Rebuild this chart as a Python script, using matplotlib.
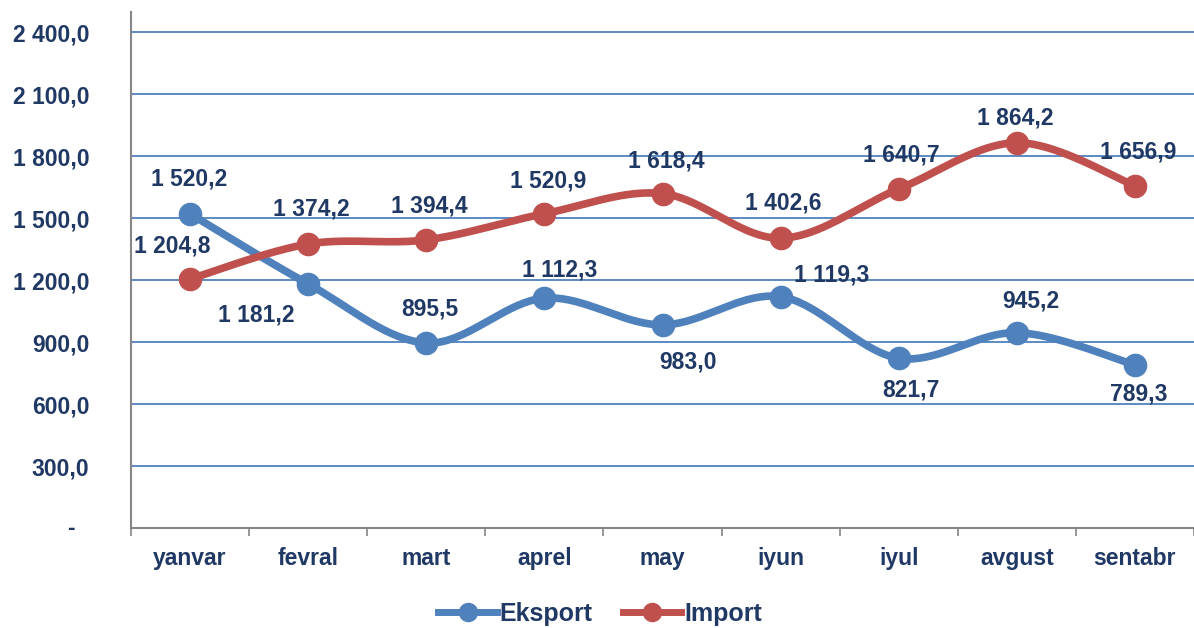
import numpy as np
import matplotlib
matplotlib.use("Agg")
import matplotlib.pyplot as plt
from matplotlib.lines import Line2D

# ---- data ----
months = ["yanvar", "fevral", "mart", "aprel", "may", "iyun", "iyul", "avgust", "sentabr"]
eksport = [1520.2, 1181.2, 895.5, 1112.3, 983.0, 1119.3, 821.7, 945.2, 789.3]
import_ = [1204.8, 1374.2, 1394.4, 1520.9, 1618.4, 1402.6, 1640.7, 1864.2, 1656.9]
ytick_values = [0, 300, 600, 900, 1200, 1500, 1800, 2100, 2400]
ytick_labels = ["-", "300,0", "600,0", "900,0", "1 200,0", "1 500,0", "1 800,0", "2 100,0", "2 400,0"]
series_names = ["Eksport", "Import"]

# ---- style ----
BLUE = "#4F81BD"
RED = "#C0504D"
TXT = "#1F3864"
GRAY = "#868686"
FS = 16.5

# label offsets in pixels (dx, dy up)
eks_off = [(-1, 35), (-52, -31), (4, 34), (15, 28), (25, -37), (51, 22), (12, -32), (14, 32), (4, -29)]
imp_off = [(-18, 33), (3, 35), (3, 34), (4, 33), (4, 33), (3, 35), (3, 34), (-2, 25), (3, 34)]

plt.rcParams['font.family'] = ['Liberation Sans', 'DejaVu Sans']

fig = plt.figure(figsize=(11.94, 6.28), dpi=100)
ax = fig.add_axes([131/1194, 100/628, 1 - 131/1194, 516/628])


def fmt(v):
    s = f"{v:,.1f}".replace(",", " ").replace(".", ",")
    return s


def smooth(xs, ys, n=40):
    P = np.column_stack([xs, ys]).astype(float)
    m = len(P)
    out = []
    for i in range(m - 1):
        p0 = P[i - 1] if i > 0 else P[i]
        p1 = P[i]
        p2 = P[i + 1]
        p3 = P[i + 2] if i + 2 < m else P[i + 1]
        c1 = p1 + (p2 - p0) / 6.0
        c2 = p2 - (p3 - p1) / 6.0
        t = np.linspace(0, 1, n)[:, None]
        seg = ((1 - t) ** 3) * p1 + 3 * ((1 - t) ** 2) * t * c1 + 3 * (1 - t) * t ** 2 * c2 + t ** 3 * p2
        if i > 0:
            seg = seg[1:]
        out.append(seg)
    out = np.vstack(out)
    return out[:, 0], out[:, 1]


x = np.arange(len(months))

# gridlines
ax.set_ylim(0, 2497)
ax.set_xlim(-0.5, len(months) - 0.5)
ax.set_yticks(ytick_values)
ax.yaxis.grid(True, color=BLUE, linewidth=1.3, zorder=0)
ax.set_axisbelow(True)

for vals, color, offs in [(eksport, BLUE, eks_off), (import_, RED, imp_off)]:
    sx, sy = smooth(x, vals)
    ax.plot(sx, sy, color=color, linewidth=5.5, solid_capstyle='round', zorder=3)
    ax.plot(x, vals, 'o', color=color, markersize=16, zorder=4)
    for xi, v, (dx, dy) in zip(x, vals, offs):
        ax.annotate(fmt(v), xy=(xi, v), xytext=(dx, dy), textcoords='offset pixels',
                    ha='center', va='center', fontsize=FS, fontweight='bold', color=TXT, zorder=5)

# y tick labels
ax.set_yticklabels([lab if lab != "-" else "" for lab in ytick_labels],
                   fontsize=FS, fontweight='bold', color=TXT)
ax.tick_params(axis='y', length=0, pad=30)
for v, lab in zip(ytick_values, ytick_labels):
    if lab == "-":
        ax.annotate(lab, xy=(0, v), xycoords=('axes fraction', 'data'), xytext=(-60, 0),
                    textcoords='offset pixels', ha='center', va='center',
                    fontsize=FS, fontweight='bold', color=TXT, annotation_clip=False)

# x ticks: boundaries as major ticks, labels at centers
ax.set_xticks(np.arange(-0.5, len(months), 1.0))
ax.set_xticklabels([])
ax.tick_params(axis='x', which='major', length=6, color=GRAY, width=1.2, direction='out')
ax.set_xticks(x, minor=True)
ax.set_xticklabels(months, minor=True, fontsize=FS, fontweight='bold', color=TXT)
ax.tick_params(axis='x', which='minor', length=0, pad=14)

for s in ['top', 'right']:
    ax.spines[s].set_visible(False)
ax.spines['left'].set_color(GRAY)
ax.spines['bottom'].set_color(GRAY)
ax.spines['left'].set_linewidth(1.5)
ax.spines['bottom'].set_linewidth(1.5)

handles = [Line2D([], [], color=BLUE, linewidth=5, marker='o', markersize=13),
           Line2D([], [], color=RED, linewidth=5, marker='o', markersize=13)]
fig.legend(handles, series_names, loc='center', bbox_to_anchor=(600/1194, 1 - 614/628),
           ncol=2, frameon=False, handlelength=2.35, handletextpad=0.1, columnspacing=1.2,
           prop={'size': 18, 'weight': 'bold'}, labelcolor=TXT)

fig.savefig("out.png", dpi=100)
